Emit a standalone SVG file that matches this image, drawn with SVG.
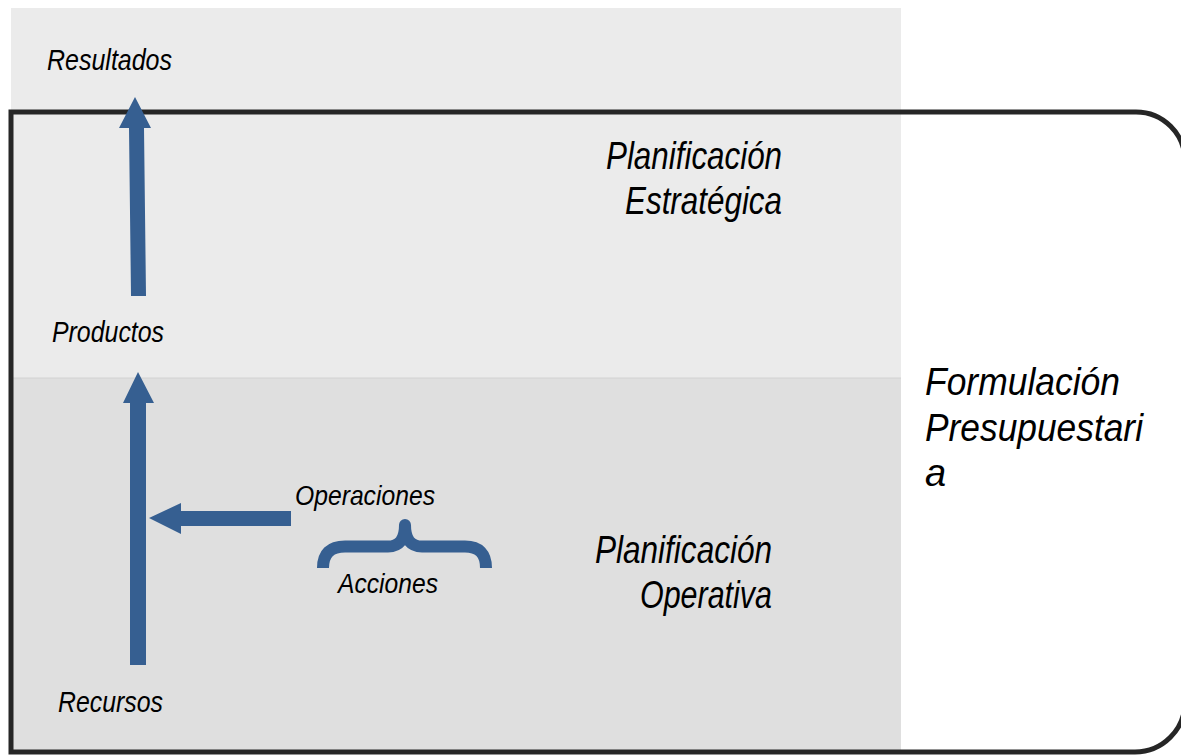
<svg xmlns="http://www.w3.org/2000/svg" width="1181" height="755" viewBox="0 0 1181 755">
<defs>
<style>
.lbl{font-family:"Liberation Sans",Arial,sans-serif;font-style:italic;fill:#000;}
.sm{font-size:30px;}
.mid{font-size:28px;}
.big{font-size:38px;}
.arr{fill:#365f91;}
.brace{fill:none;stroke:#365f91;stroke-width:12;stroke-linejoin:round;}
</style>
</defs>
<rect width="1181" height="755" fill="#ffffff"/>
<g id="zona-estrategica">
<rect x="11" y="8" width="890" height="370" fill="#ebebeb"/>
</g>
<g id="zona-operativa">
<rect x="11" y="378" width="890" height="374" fill="#dfdfdf"/>
<line x1="11" y1="378" x2="901" y2="378" stroke="#d2d2d2" stroke-width="1"/>
</g>
<g id="formulacion-presupuestaria">
<path d="M11,752 L11,112 L1136,112 A49,49 0 0 1 1185,161 L1185,702 A50,50 0 0 1 1135,752 Z" fill="none" stroke="#262626" stroke-width="5"/>
<text class="lbl big" x="925" y="395" textLength="195" lengthAdjust="spacingAndGlyphs">Formulación</text>
<text class="lbl big" x="925" y="441" textLength="218" lengthAdjust="spacingAndGlyphs">Presupuestari</text>
<text class="lbl big" x="925" y="486">a</text>
</g>
<g id="planificacion-estrategica">
<text class="lbl big" x="782" y="169" text-anchor="end" textLength="176" lengthAdjust="spacingAndGlyphs">Planificación</text>
<text class="lbl big" x="782" y="214" text-anchor="end" textLength="157" lengthAdjust="spacingAndGlyphs">Estratégica</text>
</g>
<g id="planificacion-operativa">
<text class="lbl big" x="772" y="563" text-anchor="end" textLength="177" lengthAdjust="spacingAndGlyphs">Planificación</text>
<text class="lbl big" x="772" y="608" text-anchor="end" textLength="132" lengthAdjust="spacingAndGlyphs">Operativa</text>
</g>
<g id="resultados"><text class="lbl sm" x="47" y="70" textLength="125" lengthAdjust="spacingAndGlyphs">Resultados</text></g>
<g id="productos"><text class="lbl sm" x="52" y="342" textLength="112" lengthAdjust="spacingAndGlyphs">Productos</text></g>
<g id="recursos"><text class="lbl sm" x="58" y="712" textLength="105" lengthAdjust="spacingAndGlyphs">Recursos</text></g>
<g id="operaciones"><text class="lbl mid" x="295" y="505" textLength="140" lengthAdjust="spacingAndGlyphs">Operaciones</text></g>
<g id="acciones"><text class="lbl mid" x="338" y="593" textLength="100" lengthAdjust="spacingAndGlyphs">Acciones</text></g>
<g id="connectors">
<polygon class="arr" points="131,296 146,296 144,128 151,128 135,97 119,128 129,128"/>
<polygon class="arr" points="130,665 146,665 146,403 154,403 138,372 123,403 130,403"/>
<polygon class="arr" points="291,511 291,526 181,526 181,534 149,518 181,503 181,511"/>
<path class="brace" d="M323,568 Q323,546.5 345,546.5 L388,546.5 Q405,546.5 405,525 Q405,546.5 422,546.5 L465,546.5 Q486,546.5 486,568"/>
</g>
</svg>
